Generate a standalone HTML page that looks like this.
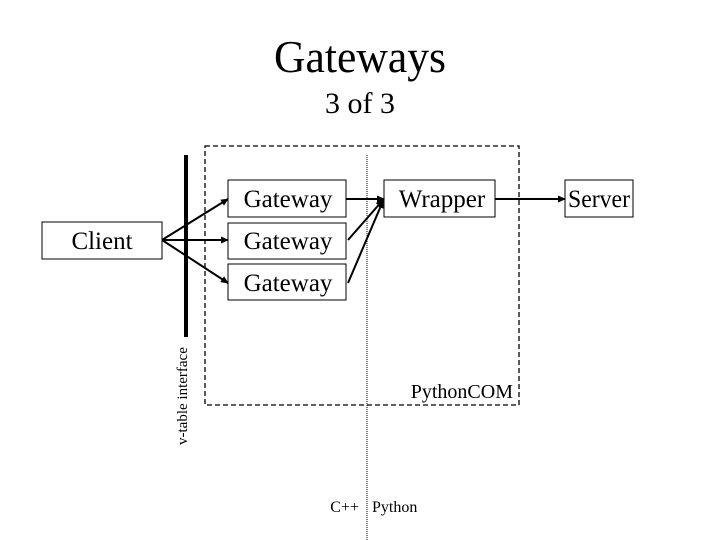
<!DOCTYPE html>
<html><head><style>
body{margin:0;background:#fff;}
svg{display:block;font-family:"Liberation Serif",serif;}
</style></head><body>
<svg width="720" height="540" viewBox="0 0 720 540" xmlns="http://www.w3.org/2000/svg">
<defs><marker id="a" markerWidth="8" markerHeight="8" refX="7" refY="4" orient="auto" markerUnits="userSpaceOnUse"><path d="M0,0.5 L8,4 L0,7.5 Z" fill="#000"/></marker></defs>
<text x="360" y="72" font-size="46" text-anchor="middle" textLength="172" lengthAdjust="spacingAndGlyphs">Gateways</text>
<text x="360" y="113" font-size="30" text-anchor="middle">3 of 3</text>
<rect x="205" y="146" width="314" height="259" fill="none" stroke="#000" stroke-width="1.3" stroke-dasharray="5,3"/>
<line x1="367" y1="155" x2="367" y2="540" stroke="#000" stroke-width="1" stroke-dasharray="1,1"/>
<line x1="186" y1="155" x2="186" y2="337" stroke="#000" stroke-width="4"/>
<text transform="translate(187,445) rotate(-90)" font-size="15">v-table interface</text>
<g fill="#fff" stroke="#000" stroke-width="1">
<rect x="228" y="180" width="118" height="37"/>
<rect x="228" y="223" width="118" height="36"/>
<rect x="228" y="264" width="118" height="36"/>
<rect x="384" y="180" width="111" height="37"/>
<rect x="42" y="222" width="120" height="37"/>
<rect x="565" y="180" width="68" height="37"/>
</g>
<g font-size="25" text-anchor="middle">
<text x="288" y="207">Gateway</text>
<text x="288" y="249">Gateway</text>
<text x="288" y="291">Gateway</text>
<text x="442" y="207">Wrapper</text>
<text x="102" y="249">Client</text>
<text x="599" y="207" textLength="62" lengthAdjust="spacingAndGlyphs">Server</text>
</g>
<g stroke="#000" stroke-width="2" marker-end="url(#a)">
<line x1="162" y1="240" x2="228" y2="199"/>
<line x1="162" y1="240" x2="228" y2="240"/>
<line x1="162" y1="240" x2="228" y2="283"/>
<line x1="346" y1="199" x2="384" y2="199"/>
<line x1="348" y1="240" x2="383" y2="200"/>
<line x1="348" y1="283" x2="383" y2="201"/>
<line x1="495" y1="199" x2="565" y2="199"/>
</g>
<text x="513" y="398" font-size="20" text-anchor="end">PythonCOM</text>
<text x="359" y="512" font-size="16" text-anchor="end">C++</text>
<text x="372" y="512" font-size="16">Python</text>
</svg>
</body></html>
